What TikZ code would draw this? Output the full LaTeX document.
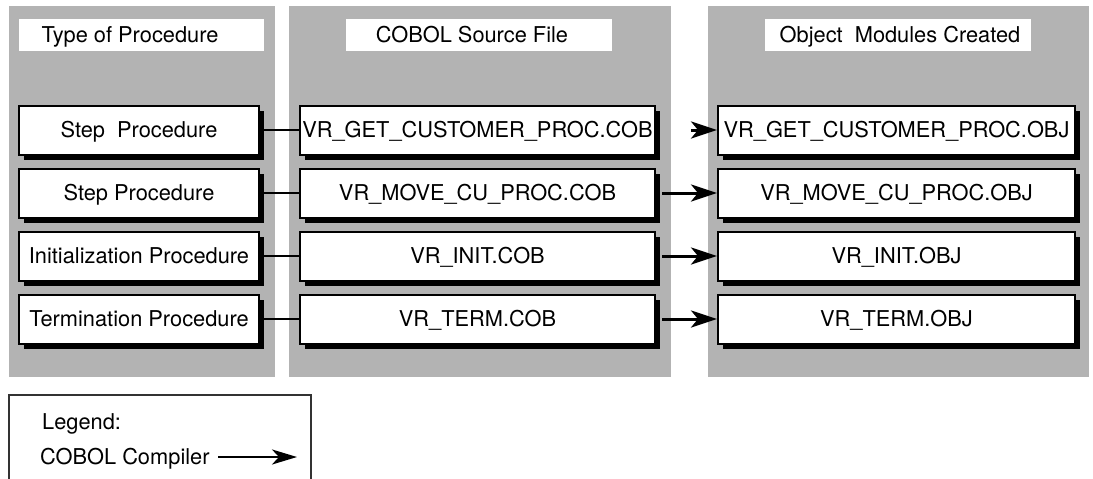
\documentclass[tikz,border=0pt]{standalone}
\usepackage{fontspec}
\setmainfont{TeX Gyre Heros}
\usetikzlibrary{arrows.meta,shadows}
\definecolor{panelgray}{RGB}{179,179,179}
\begin{document}
\begin{tikzpicture}[x=1pt,y=-1pt,
  panel/.style={fill=panelgray,draw=none},
  headbox/.style={fill=white,draw=none},
  rowbox/.style={draw=black,line width=2pt,fill=white,minimum height=49pt,inner sep=1pt,
     text height=15.5pt,text depth=0pt,
     general shadow={fill=black,shadow xshift=5pt,shadow yshift=-5pt},
     font=\fontsize{21.8}{25}\selectfont},
  lbl/.style={font=\fontsize{21.8}{25}\selectfont,inner sep=0pt,text height=15.5pt,text depth=0pt},
  thin/.style={line width=1.3pt},
  compile/.style={line width=3pt,-{Stealth[length=26pt,width=17pt,inset=7pt]}}]
\clip (0,0) rectangle (1093,479);
\fill[white] (0,0) rectangle (1093,479);
% panels
\fill[panel] (9,6) rectangle (275,377);
\fill[panel] (289,6) rectangle (671,377);
\fill[panel] (708,6) rectangle (1089,377);
% headers
\fill[headbox] (19,19) rectangle (264,51);
\fill[headbox] (346,19) rectangle (612,51);
\fill[headbox] (765,19) rectangle (1031,51);
\node[lbl] (h1) at (130,35) {Type of Procedure};
\node[lbl] (h2) at (472,35) {COBOL Source File};
\node[lbl] (h3) at (900,35) {Object\ \ Modules Created};
% rows
\foreach \i/\y/\a/\b/\c in {
  1/130/{Step\ \ Procedure}/{VR\_GET\_CUSTOMER\_PROC.COB}/{VR\_GET\_CUSTOMER\_PROC.OBJ},
  2/193/{Step Procedure}/{VR\_MOVE\_CU\_PROC.COB}/{VR\_MOVE\_CU\_PROC.OBJ},
  3/256/{Initialization Procedure}/{VR\_INIT.COB}/{VR\_INIT.OBJ},
  4/319/{Termination Procedure}/{VR\_TERM.COB}/{VR\_TERM.OBJ}}{
  \node[rowbox,minimum width=240pt] (p\i) at (139,\y) {\a};
  \node[rowbox,minimum width=355pt] (s\i) at (477.5,\y) {\b};
  \node[rowbox,minimum width=357pt] (o\i) at (896.5,\y) {\c};
  \draw[thin] (p\i.east) -- (s\i.west);
}
\coordinate (a1) at (691,130);
\draw[compile] (a1) -- (o1.west);
\draw[compile] ([xshift=6pt]s2.east) -- (o2.west);
\draw[compile] ([xshift=6pt]s3.east) -- (o3.west);
\draw[compile] ([xshift=6pt]s4.east) -- (o4.west);
% legend
\draw[line width=1.3pt,draw=black!80] (9,395) rectangle (311,500);
\node[lbl,anchor=west] (lg) at (42,422) {Legend:};
\node[lbl,anchor=west] (lc) at (40,457) {COBOL Compiler};
\coordinate (la) at (218,457);
\coordinate (lb) at (297,457);
\draw[line width=2.5pt,-{Stealth[length=25pt,width=15pt,inset=7pt]}] (la) -- (lb);
\end{tikzpicture}
\end{document}
